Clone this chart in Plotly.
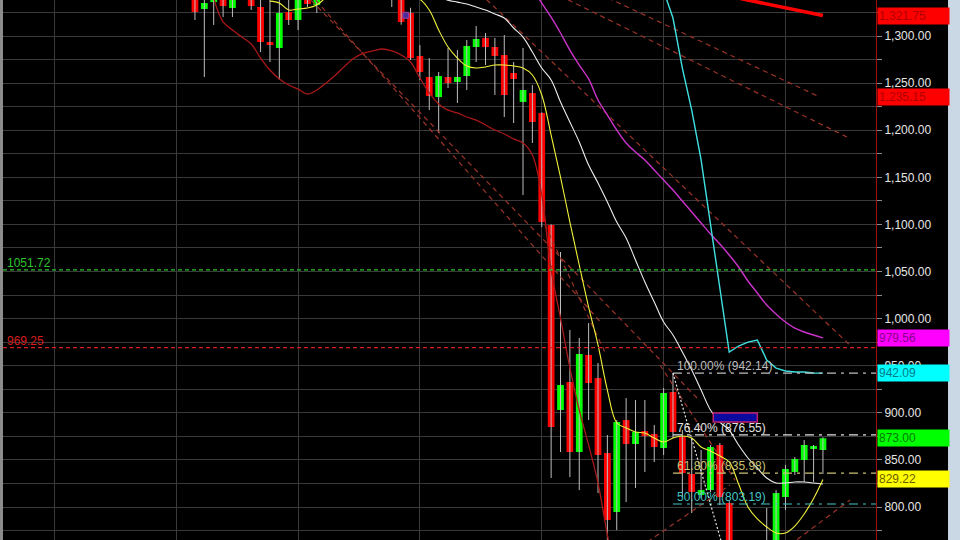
import plotly.graph_objects as go

# ---------------- data ----------------
IDX = list(range(68))
OPEN = [1345, 1328.7, 1336, 1345, 1329.7, 1352, 1350, 1330.8, 1293.6, 1287.3,
        1325.5, 1317, 1345, 1332.9, 1348, 1362, 1370, 1378, 1372, 1384,
        1368, 1365, 1350, 1324.4, 1278.8, 1256.5, 1235.2, 1256.5, 1251.2, 1257.5,
        1288.3, 1297.9, 1288.3, 1279.8, 1260.7, 1230, 1239.5, 1218.3, 1099.4, 903,
        932.7, 858.4, 961.4, 936.9, 857.3, 794.7, 892.3, 866.9, 880.7, 877.5,
        862.6, 922.1, 874.3, 835, 812.7, 818, 865.8, 804.2, 740, 700,
        680, 720, 745, 810.6, 837.2, 849.9, 862.6, 860.5]
HIGH = [1350, 1340, 1345, 1350, 1350, 1358, 1355, 1340, 1345, 1340,
        1340, 1350, 1352, 1350, 1368, 1375, 1385, 1390, 1388, 1392,
        1375, 1372, 1356, 1330, 1290.4, 1276.6, 1261.8, 1287.3, 1285.1, 1295.8,
        1310.6, 1303.2, 1297.9, 1301, 1272.4, 1287.3, 1248, 1219, 1100, 1070.7,
        987.9, 979.4, 995.3, 952.9, 876.4, 892.3, 915.7, 913.6, 913.6, 887,
        926.3, 942.14, 881.7, 873.2, 860.5, 865.8, 868, 807, 750, 715,
        740, 799, 818, 844.6, 853.1, 871.1, 865.8, 874]
LOW = [1317, 1256.5, 1311.7, 1320.2, 1320.2, 1341, 1327.6, 1283, 1272.4, 1253.3,
       1311.7, 1306.4, 1330.8, 1324.4, 1341, 1350, 1360, 1365, 1362, 1365,
       1345, 1330.8, 1312, 1274.5, 1253.3, 1221.4, 1197, 1244.8, 1228.9, 1242.7,
       1272.4, 1269.2, 1237.4, 1214, 1207.6, 1131.2, 1186.4, 1097.2, 830.8, 858.4,
       831.8, 818, 892.3, 814.8, 760, 775.6, 805.3, 820.2, 837.2, 847.8,
       855.2, 873.2, 810.6, 793.6, 810, 815.9, 802.1, 700, 690, 664.24,
       670, 710, 735, 796.8, 834, 826.5, 826.5, 835]
CLOSE = [1325.5, 1335, 1342, 1331.8, 1345, 1346, 1331.8, 1293.6, 1291.5, 1324.4,
         1317, 1345, 1334, 1345, 1362, 1370, 1378, 1372, 1384, 1368,
         1352, 1350, 1314.9, 1276.6, 1261.8, 1236.3, 1257.5, 1250.1, 1256.5, 1289.4,
         1296.8, 1288.3, 1278.8, 1237.4, 1254.4, 1242.7, 1208.7, 1102.5, 884.9, 929.5,
         858.4, 962.4, 931.6, 855.2, 786.2, 890.2, 866.9, 879.6, 875.4, 863.7,
         921, 879.6, 836, 815.9, 818, 863.7, 810.6, 740, 700, 680,
         720, 745, 814.8, 840.4, 851, 865.8, 864.7, 873]

YELLOW_X = list(range(8, 68))
YELLOW = [1337, 1335, 1327.6, 1328.7, 1329.7, 1332.9, 1341, 1347, 1352, 1356,
          1358, 1358, 1356, 1352, 1347, 1343, 1339, 1327.6, 1306.4, 1288.3,
          1276.6, 1268.2, 1266, 1267.1, 1269.2, 1269.2, 1268.2, 1266, 1258.6, 1237.4,
          1194.9, 1150.3, 1102.5, 1056.9, 1012.3, 972, 924.2, 889.2, 883.9, 879.6,
          878.5, 873.2, 869, 873.2, 875.4, 873.2, 863.7, 859.4, 854.1, 847.8,
          824.4, 800, 787.3, 778.8, 772.4, 772.4, 779.8, 792.6, 809, 829.22]

WHITE_X = list(range(26, 68))
WHITE = [1342, 1338, 1336, 1334, 1330.8, 1327.6, 1323.4, 1319.1, 1308.5, 1298.9,
         1283, 1266, 1253.3, 1230, 1208.7, 1187.5, 1163, 1144, 1123.8, 1102.5,
         1085.6, 1062.2, 1038.9, 1017.6, 996.4, 982.6, 964.5, 945.4, 924.2, 903,
         890.2, 881.7, 865.8, 852, 841.4, 830.8, 825.5, 825.5, 826.5, 826.5,
         825.5, 824.4]

MAGENTA_X = list(range(36, 68))
MAGENTA = [1350, 1335, 1320, 1303.2, 1285.1, 1269.2, 1254.4, 1232.1, 1216.1, 1200.2,
           1186.4, 1176.8, 1168.4, 1157.7, 1147.1, 1136.5, 1124.8, 1113.2, 1101.5, 1089.8,
           1079.2, 1067.5, 1054.8, 1039.9, 1027.2, 1014.4, 1004.9, 996.4, 990, 985.8,
           982.6, 979.56]

CYAN_X = list(range(50, 68))
CYAN = [1348, 1319.1, 1266, 1221.4, 1168.4, 1101.5, 1030.4, 964.5, 970.9, 975.1,
        977.3, 956, 947.5, 944.4, 943.3, 943.3, 942.2, 942.09]

BAND_X = list(range(2, 46))
BAND = [1340, 1314.9, 1306.4, 1298.9, 1291.5, 1276.6, 1263.9, 1254.4, 1248, 1243.7,
        1238.4, 1242.7, 1250.1, 1258.6, 1268.2, 1276.6, 1281.9, 1284.1, 1286.2, 1284.1,
        1279.8, 1272.4, 1255.4, 1239.5, 1227.8, 1221.4, 1218.3, 1214, 1210.8, 1205.5,
        1200.2, 1196, 1190.7, 1186.4, 1173.7, 1131.2, 1051.6, 1000.6, 947.6, 903,
        865.8, 825.5, 770.3, 722.5]

THICK_X = [55, 61, 67]
THICK = [1346.4, 1334.1, 1321.75]

# trend-line drawings: (x0, y0, x1, y1)
DASHED_LINES = [
    (12.27, 1344.9, 43.21, 997.0),
    (11.74, 1344.6, 53.88, 912.5),
    (37.34, 1099.4, 43.74, 964.5),
    (30.41, 1345.3, 70.20, 968.8),
    (43.21, 1344.4, 66.68, 1235.15),
    (38.94, 1342.7, 69.56, 1192.8),
    (49.61, 950.7, 57.61, 828.6),
    (47.48, 757.5, 57.08, 823.3),
    (63.48, 759.7, 69.88, 807.4),
]

H_LEVELS = [1051.72, 969.25]
H_COLORS = ["#2FC52F", "#D81E1E"]

FIB_START, FIB_END = 51, 59
FIB_HIGH, FIB_LOW = 942.14, 664.24
FIB_PCT = [100.00, 76.40, 61.80, 50.00]
FIB_VAL = [942.14, 876.55, 835.98, 803.19]
FIB_COLORS = ["#BDBDBD", "#E2E2E2", "#C9C274", "#43C3C3"]

BLUE_BOX = (55.3, 890.2, 60.0, 899.8)
MARK_X, MARK_Y = [22.5], [1322]

RIGHT_LABELS = [1321.75, 1235.15, 979.56, 942.09, 873.00, 829.22]
RIGHT_BG = ["#FF0000", "#FF0000", "#FF00FF", "#00FFFF", "#00FF00", "#FFFF00"]
RIGHT_FG = ["#B00000", "#B00000", "#8A008A", "#007A8A", "#007A00", "#6E5A00"]

GRID_X = [-15, -2, 11, 24, 37, 50, 63]
X_RANGE = [-20.48, 72.66]
Y_RANGE = [764.97, 1338.22]

FONT = "Arial"
UP_COLOR, DOWN_COLOR = "#00FF00", "#FF0000"

# ---------------- figure ----------------
fig = go.Figure()

# wicks
wx, wy = [], []
for i, h, l in zip(IDX, HIGH, LOW):
    wx += [i, i, None]
    wy += [l, h, None]
fig.add_trace(go.Scatter(x=wx, y=wy, mode="lines",
                         line=dict(color="#BDBDBD", width=1), hoverinfo="skip"))

# bodies (bars from open to close)
body_lo = [min(o, c) for o, c in zip(OPEN, CLOSE)]
body_h = [max(abs(c - o), 1.2) for o, c in zip(OPEN, CLOSE)]
body_col = [UP_COLOR if c >= o else DOWN_COLOR for o, c in zip(OPEN, CLOSE)]
fig.add_trace(go.Bar(x=IDX, y=body_h, base=body_lo, width=0.72,
                     marker=dict(color=body_col, line=dict(width=0)),
                     hoverinfo="skip"))

# dashed trend lines
for (x0, y0, x1, y1) in DASHED_LINES:
    fig.add_trace(go.Scatter(x=[x0, x1], y=[y0, y1], mode="lines",
                             line=dict(color="#9A3328", width=1.2, dash="5px,4px"),
                             hoverinfo="skip"))

# indicator lines
fig.add_trace(go.Scatter(x=BAND_X, y=BAND, mode="lines", line=dict(color="#A81818", width=1.3, shape="spline")))
fig.add_trace(go.Scatter(x=MAGENTA_X, y=MAGENTA, mode="lines", line=dict(color="#CC33CC", width=1.4, shape="spline")))
fig.add_trace(go.Scatter(x=CYAN_X, y=CYAN, mode="lines", line=dict(color="#3FE0E0", width=1.4)))
fig.add_trace(go.Scatter(x=WHITE_X, y=WHITE, mode="lines", line=dict(color="#EDEDED", width=1.1, shape="spline")))
fig.add_trace(go.Scatter(x=YELLOW_X, y=YELLOW, mode="lines", line=dict(color="#F2F23C", width=1.1, shape="spline")))
fig.add_trace(go.Scatter(x=THICK_X, y=THICK, mode="lines", line=dict(color="#FF0000", width=3.5)))

# fib levels
for v, c in zip(FIB_VAL, FIB_COLORS):
    fig.add_trace(go.Scatter(x=[FIB_START, X_RANGE[1]], y=[v, v], mode="lines",
                             line=dict(color=c, width=1.2, dash="9px,5px,3px,5px"),
                             hoverinfo="skip"))
fig.add_trace(go.Scatter(x=[FIB_START, FIB_END], y=[FIB_HIGH, FIB_LOW], mode="lines",
                         line=dict(color="#E8E8E8", width=1.2, dash="2px,2px"), hoverinfo="skip"))

# small marker
fig.add_trace(go.Scatter(x=MARK_X, y=MARK_Y, mode="markers",
                         marker=dict(symbol="square", size=6, color="#4B2C9B",
                                     line=dict(color="#A040A0", width=1))))

shapes = []
for v, c in zip(H_LEVELS, H_COLORS):
    shapes.append(dict(type="line", xref="paper", x0=0, x1=1, yref="y", y0=v, y1=v,
                       line=dict(color=c, width=1.2, dash="4px,3px")))
bx0, by0, bx1, by1 = BLUE_BOX
shapes.append(dict(type="rect", xref="x", yref="y", x0=bx0, x1=bx1, y0=by0, y1=by1,
                   fillcolor="#0A0AA0", line=dict(color="#C02070", width=1.5)))
# window edges
shapes.append(dict(type="rect", xref="paper", yref="paper", x0=-0.0035, x1=0, y0=0, y1=1,
                   fillcolor="#8C8C8C", line=dict(width=0)))
shapes.append(dict(type="rect", xref="paper", yref="paper", x0=1.0825, x1=1.1, y0=0, y1=1,
                   fillcolor="#CAD7E5", line=dict(width=0)))

annotations = []
for v, c in zip(H_LEVELS, H_COLORS):
    annotations.append(dict(xref="paper", x=0, xanchor="left", xshift=2,
                            yref="y", y=v, yanchor="bottom", yshift=-2,
                            text=f"{v:.2f}", showarrow=False,
                            font=dict(color=c, size=12, family=FONT)))
for p, v, c in zip(FIB_PCT, FIB_VAL, FIB_COLORS):
    annotations.append(dict(xref="x", x=FIB_START, xanchor="left", xshift=2,
                            yref="y", y=v, yanchor="bottom", yshift=-2,
                            text=f"{p:.2f}% ({v:.2f})", showarrow=False,
                            font=dict(color=c, size=12, family=FONT)))
for v, bg, fg in zip(RIGHT_LABELS, RIGHT_BG, RIGHT_FG):
    annotations.append(dict(xref="paper", x=1, xanchor="left", xshift=1,
                            yref="y", y=v, yanchor="middle",
                            text=f"{v:,.2f}", showarrow=False, align="left",
                            width=69, height=14, borderpad=1, bgcolor=bg,
                            font=dict(color=fg, size=12, family=FONT)))

fig.update_layout(
    width=960, height=540,
    margin=dict(l=3, r=84, t=0, b=0),
    paper_bgcolor="#000000", plot_bgcolor="#000000",
    showlegend=False, barmode="overlay",
    shapes=shapes, annotations=annotations,
    xaxis=dict(range=X_RANGE, tickvals=GRID_X, showticklabels=False, ticks="",
               showgrid=True, gridcolor="#3A3A3A", gridwidth=1, zeroline=False,
               fixedrange=True),
    yaxis=dict(range=Y_RANGE, side="right", tick0=0, dtick=50, tickformat=",.2f",
               showgrid=True, gridcolor="#3A3A3A", gridwidth=1, zeroline=False,
               showline=True, linecolor="#A01010", linewidth=1,
               ticks="outside", ticklen=5, tickcolor="#8A8A8A",
               tickfont=dict(color="#E6E6E6", size=12, family=FONT),
               minor=dict(dtick=25, showgrid=True, gridcolor="#3A3A3A",
                          ticks="outside", ticklen=5, tickcolor="#8A8A8A")),
)

fig.write_html("out.html", config={"displayModeBar": False},
               post_script="document.body.style.margin='0px';document.body.style.background='#000';")
